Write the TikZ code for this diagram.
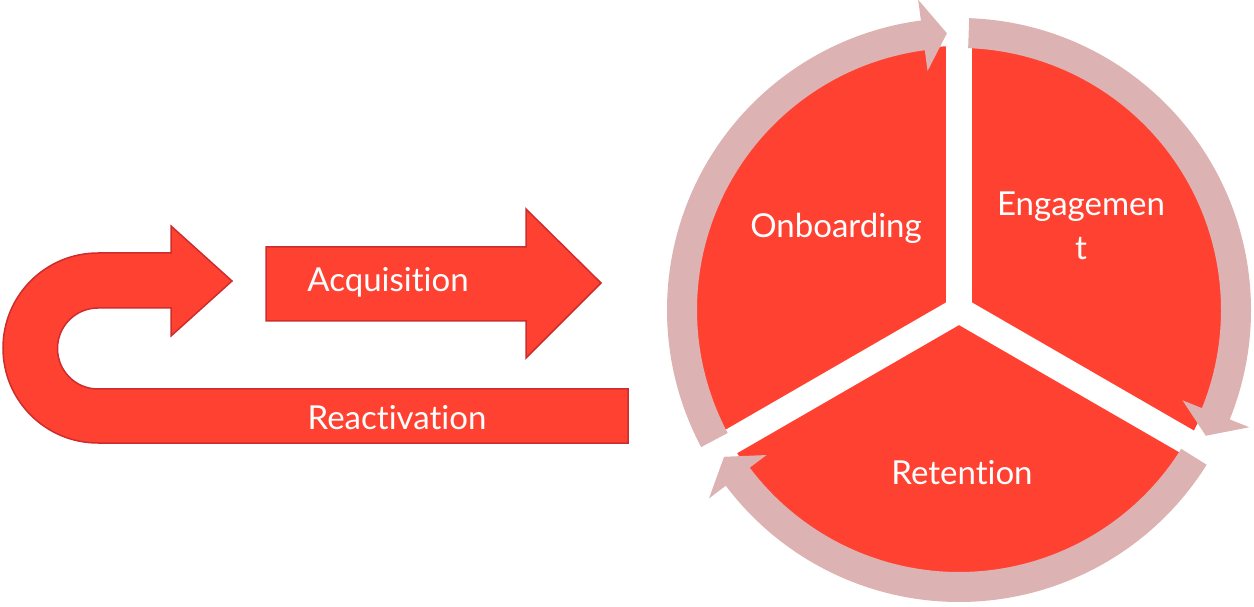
\documentclass[tikz,border=0pt]{standalone}
\usepackage{fontspec}
\setmainfont{Lato}[Ligatures=NoCommon]
\begin{document}
\begin{tikzpicture}[x=1pt,y=1pt,
  redfill/.style={fill={rgb,255:red,255;green,65;blue,50}},
  leftarrow/.style={redfill,draw={rgb,255:red,205;green,45;blue,45},line width=1.5pt,line join=miter},
  ringarrow/.style={fill={rgb,255:red,220;green,178;blue,178}},
  gapline/.style={draw=white,line width=26pt,line cap=butt},
  lbl/.style={text=white,font=\fontsize{33}{44}\selectfont,inner sep=0pt,anchor=base,align=center}]
\useasboundingbox (0,0) rectangle (1254,606);
% left U-turn arrow (Reactivation)
\path[leftarrow] (628,163) -- (98,163) arc[start angle=270,end angle=90,radius=95]
  -- (171,353) -- (171,380) -- (232,325) -- (171,270) -- (171,298) -- (98,298)
  arc[start angle=90,end angle=270,radius=40.5] -- (628,217) -- cycle;
% Acquisition arrow
\path[leftarrow] (266,359) -- (526,359) -- (526,397) -- (601,323) -- (526,248)
  -- (526,285) -- (266,285) -- cycle;
% pie
\coordinate (C) at (959,296);
\fill[redfill] (C) circle[radius=264];
\draw[gapline] (C) -- ++(90:270);
\draw[gapline] (C) -- ++(210:270);
\draw[gapline] (C) -- ++(330:270);
% ring arrows
\begin{scope}[shift={(C)}]
\path[ringarrow] (88:292) arc[start angle=88,end angle=-22,radius=292] -- (-22:313) -- (-27:277)
  -- (-22:241) -- (-22:262) arc[start angle=-22,end angle=88,radius=262] -- cycle;
\path[ringarrow] (-32:292) arc[start angle=-32,end angle=-143,radius=292] -- (-143:313) -- (-148:277)
  -- (-143:241) -- (-143:262) arc[start angle=-143,end angle=-32,radius=262] -- cycle;
\path[ringarrow] (208:292) arc[start angle=208,end angle=97.5,radius=292] -- (97.5:313) -- (92.5:277)
  -- (97.5:241) -- (97.5:262) arc[start angle=97.5,end angle=208,radius=262] -- cycle;
\end{scope}
% labels
\node[lbl] (acq) at (388,314) {Acquisition};
\node[lbl] (react) at (397,177) {Reactivation};
\node[lbl] (onb) at (836,368) {Onboarding};
\node[lbl] (eng) at (1081,346) {Engagemen\\t};
\node[lbl] (ret) at (962,122) {Retention};
\end{tikzpicture}
\end{document}
